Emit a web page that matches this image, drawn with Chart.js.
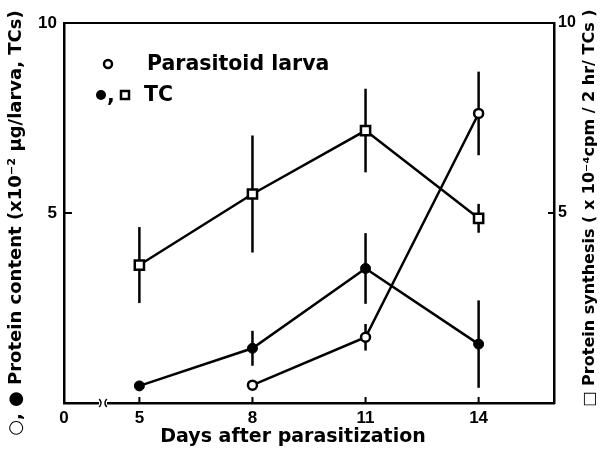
<!DOCTYPE html>
<html>
<head>
<meta charset="utf-8">
<script src="https://cdn.jsdelivr.net/npm/chart.js@4.4.0/dist/chart.umd.min.js"></script>
<style>
  html, body { margin: 0; padding: 0; background: #fff; }
</style>
</head>
<body>
<canvas id="chart" width="606" height="453"></canvas>
<script>
// Days after parasitization
const days = [5, 8, 11, 14];
const larvaDays = [8, 11, 14];
// Tick labels (the "0" sits on the broken start of the axis)
const xTicks = [3, 5, 8, 11, 14];
const xTickLabels = ["0", "5", "8", "11", "14"];
const yTicks = [5, 10];

// Protein synthesis in TCs (x10^-4 cpm / 2 hr / TCs), right axis
const synthesisTC = [3.63, 5.5, 7.17, 4.86];
const synthesisTCErr = [1.0, 1.54, 1.1, 0.38];
// Protein content of TCs (x10^-2 ug), left axis
const proteinTC = [0.45, 1.44, 3.54, 1.55];
const proteinTCErr = [0, 0.46, 0.93, 1.15];
// Protein content of parasitoid larva, left axis
const proteinLarva = [0.47, 1.73, 7.62];
const proteinLarvaErr = [0, 0.35, 1.1];

const FONT = "'Liberation Sans', sans-serif";
const DV = "'DejaVu Sans', sans-serif";

function pts(xs, ys) {
  return xs.map((x, i) => ({ x: x, y: ys[i] }));
}

// Error bars drawn under the lines and markers
const errorBars = {
  id: "errorBars",
  beforeDatasetsDraw(chart) {
    const ctx = chart.ctx;
    ctx.save();
    ctx.strokeStyle = "#000";
    ctx.lineWidth = 2.5;
    chart.data.datasets.forEach((ds) => {
      if (!ds.errors) return;
      const ys = chart.scales[ds.yAxisID];
      const xs = chart.scales.x;
      ds.data.forEach((p, i) => {
        const e = ds.errors[i];
        if (!e) return;
        const px = xs.getPixelForValue(p.x);
        ctx.beginPath();
        ctx.moveTo(px, ys.getPixelForValue(p.y - e));
        ctx.lineTo(px, ys.getPixelForValue(p.y + e));
        ctx.stroke();
      });
    });
    ctx.restore();
  }
};

// Frame, inner ticks, axis break, titles and the legend
const decorations = {
  id: "decorations",
  afterDraw(chart) {
    const ctx = chart.ctx;
    const a = chart.chartArea;
    const x = chart.scales.x;
    const y = chart.scales.y;
    ctx.save();
    ctx.strokeStyle = "#000";
    ctx.fillStyle = "#000";
    ctx.lineWidth = 2;

    // top line of the frame
    ctx.beginPath();
    ctx.moveTo(a.left - 1, a.top);
    ctx.lineTo(a.right + 1, a.top);
    ctx.stroke();

    // inner tick marks
    ctx.beginPath();
    days.forEach((d) => {
      const px = x.getPixelForValue(d);
      ctx.moveTo(px, a.bottom);
      ctx.lineTo(px, a.bottom - 6);
    });
    const y5 = y.getPixelForValue(5);
    ctx.moveTo(a.left, y5);
    ctx.lineTo(a.left + 8, y5);
    ctx.moveTo(a.right, y5);
    ctx.lineTo(a.right - 6, y5);
    ctx.stroke();

    // axis break
    const bx = a.left + 38;
    ctx.fillStyle = "#fff";
    ctx.fillRect(bx - 3, a.bottom - 4, 8, 8);
    ctx.lineWidth = 1.5;
    ctx.beginPath();
    ctx.arc(bx - 6, a.bottom, 5, -0.9, 0.9);
    ctx.stroke();
    ctx.beginPath();
    ctx.arc(bx + 8, a.bottom, 5, Math.PI - 0.9, Math.PI + 0.9);
    ctx.stroke();

    ctx.fillStyle = "#000";
    ctx.textAlign = "center";
    ctx.textBaseline = "middle";

    // x title
    ctx.font = "bold 19px " + DV;
    ctx.fillText("Days after parasitization", 293, 437);

    // left title
    ctx.save();
    ctx.translate(16, 223);
    ctx.rotate(-Math.PI / 2);
    ctx.font = "bold 18px " + DV;
    ctx.fillText("○, ● Protein content (x10⁻² µg/larva, TCs)", 0, 0, 440);
    ctx.restore();

    // right title
    ctx.save();
    ctx.translate(590, 208);
    ctx.rotate(-Math.PI / 2);
    ctx.font = "bold 16px " + DV;
    ctx.fillText("□ Protein synthesis ( x 10⁻⁴cpm / 2 hr/ TCs )", 0, 0, 400);
    ctx.restore();

    // legend
    ctx.textAlign = "left";
    ctx.font = "600 20.5px " + DV;
    ctx.lineWidth = 2.5;
    ctx.beginPath();
    ctx.arc(108, 64, 4, 0, Math.PI * 2);
    ctx.stroke();
    ctx.fillText("Parasitoid larva", 147, 65);

    ctx.beginPath();
    ctx.arc(101, 95, 5, 0, Math.PI * 2);
    ctx.fill();
    ctx.fillText(",", 107, 97);
    ctx.strokeRect(121, 91, 8, 8);
    ctx.fillText("TC", 144, 96);

    ctx.restore();
  }
};

const tickFont = { family: FONT, size: 17, weight: "bold" };

new Chart(document.getElementById("chart"), {
  type: "line",
  data: {
    datasets: [
      {
        label: "Protein synthesis, TC",
        data: pts(days, synthesisTC),
        errors: synthesisTCErr,
        yAxisID: "y2",
        borderColor: "#000",
        borderWidth: 2.5,
        pointStyle: "rect",
        pointRadius: 6.5,
        pointBorderWidth: 2.5,
        pointBackgroundColor: "#fff",
        pointBorderColor: "#000"
      },
      {
        label: "Protein content, TC",
        data: pts(days, proteinTC),
        errors: proteinTCErr,
        yAxisID: "y",
        borderColor: "#000",
        borderWidth: 2.5,
        pointStyle: "circle",
        pointRadius: 5,
        pointBorderWidth: 1,
        pointBackgroundColor: "#000",
        pointBorderColor: "#000"
      },
      {
        label: "Parasitoid larva",
        data: pts(larvaDays, proteinLarva),
        errors: proteinLarvaErr,
        yAxisID: "y",
        borderColor: "#000",
        borderWidth: 2.5,
        pointStyle: "circle",
        pointRadius: 4.5,
        pointBorderWidth: 2.5,
        pointBackgroundColor: "#fff",
        pointBorderColor: "#000"
      }
    ]
  },
  options: {
    responsive: false,
    animation: false,
    devicePixelRatio: 1,
    layout: { padding: { top: 23 } },
    plugins: {
      legend: { display: false },
      tooltip: { enabled: false }
    },
    scales: {
      x: {
        type: "linear",
        min: 3,
        max: 16,
        afterBuildTicks: (s) => { s.ticks = xTicks.map((v) => ({ value: v })); },
        afterFit: (s) => { s.height = 50; },
        ticks: {
          color: "#000",
          font: tickFont,
          padding: 5,
          maxRotation: 0,
          callback: (v) => xTickLabels[xTicks.indexOf(v)]
        },
        grid: { display: false, drawTicks: false },
        border: { display: true, color: "#000", width: 2.5 }
      },
      y: {
        position: "left",
        min: 0,
        max: 10,
        afterBuildTicks: (s) => { s.ticks = yTicks.map((v) => ({ value: v })); },
        afterFit: (s) => { s.width = 64; },
        ticks: { color: "#000", font: tickFont, padding: 7 },
        grid: { display: false, drawTicks: false },
        border: { display: true, color: "#000", width: 2.5 }
      },
      y2: {
        position: "right",
        min: 0,
        max: 10,
        afterBuildTicks: (s) => { s.ticks = yTicks.map((v) => ({ value: v })); },
        afterFit: (s) => { s.width = 52; },
        ticks: { color: "#000", font: { family: FONT, size: 16, weight: "bold" }, padding: 4 },
        grid: { display: false, drawTicks: false },
        border: { display: true, color: "#000", width: 2.5 }
      }
    }
  },
  plugins: [errorBars, decorations]
});
</script>
</body>
</html>
